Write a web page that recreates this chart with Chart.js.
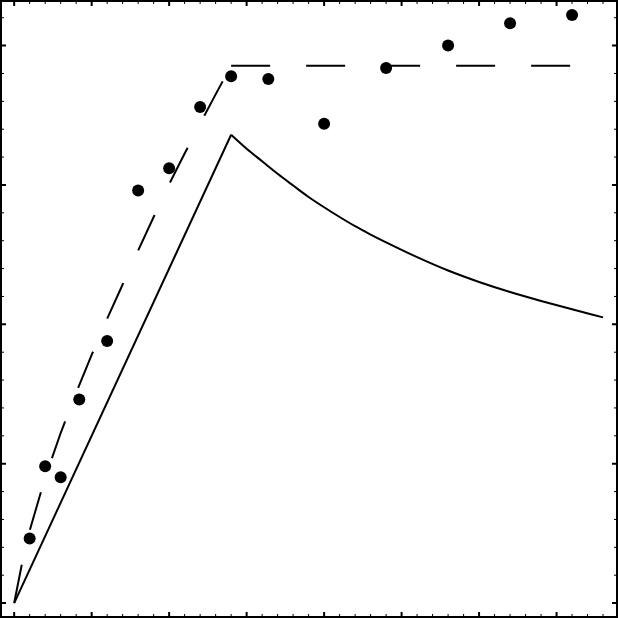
<!DOCTYPE html>
<html>
<head>
<meta charset="utf-8">
<script src="https://cdn.jsdelivr.net/npm/chart.js@4"></script>
<style>
    html, body { margin: 0; padding: 0; background: #ffffff; }
    #wrap { width: 618px; height: 618px; }
</style>
</head>
<body>
<div id="wrap"><canvas id="plot"></canvas></div>
<script>
// Measured points (filled circles)
const pointX = [1, 2, 3, 4.2, 6, 8, 10, 12, 14, 16.4, 20, 24, 28, 32, 36];
const pointY = [23.2, 49.1, 45.1, 73, 94, 148, 156, 178, 189, 188, 172, 192, 200, 208, 211];

// Dashed curve: rising part, then flat part
const dashRiseX = [0, 0.5, 1, 2, 3, 4, 5, 6, 7, 8, 9, 10, 11, 12, 13, 14];
const dashRiseY = [0, 14, 26, 45, 61, 75.5, 89, 102, 114.3, 126.5, 138.5, 150.3, 161.3, 172, 182.5, 192.8];
const dashFlatX = [14, 36];
const dashFlatY = [192.8, 192.8];

// Solid curve: linear rise to the peak, then decay
const solidRiseX = [0, 14];
const solidRiseY = [0, 168];
const solidDecayX = [14, 15, 16, 17, 18, 19, 20, 21, 22, 23, 24, 26, 28, 30, 32, 34, 36, 38];
const solidDecayY = [168, 163, 158.5, 154, 149.8, 145.7, 142, 138.5, 135.2, 132.2, 129.4, 124.1, 119.3, 115.2, 111.6, 108.4, 105.4, 102.5];

// Tick values (no labels are shown)
const xMajorTicks = [0, 5, 10, 15, 20, 25, 30, 35];
const xMinorTicks = [];
for (let v = 0; v <= 38; v += 1) {
    if (v % 5 !== 0) xMinorTicks.push(v);
}
const yMajorTicks = [0, 50, 100, 150, 200];
const yMinorTicks = [];
for (let v = 10; v <= 210; v += 10) {
    if (v % 50 !== 0) yMinorTicks.push(v);
}

function toPoints(xs, ys) {
    return xs.map((x, i) => ({ x: x, y: ys[i] }));
}

// Frame and inward ticks on all four sides
const framePlugin = {
    id: 'frame',
    beforeDraw: function (chart) {
        const ctx = chart.ctx;
        ctx.save();
        ctx.fillStyle = '#ffffff';
        ctx.fillRect(0, 0, chart.width, chart.height);
        ctx.restore();
    },
    afterDraw: function (chart) {
        const ctx = chart.ctx;
        const area = chart.chartArea;
        const xs = chart.scales.x;
        const ys = chart.scales.y;

        ctx.save();
        ctx.strokeStyle = '#000000';
        ctx.lineWidth = 2;
        ctx.strokeRect(area.left, area.top, area.right - area.left, area.bottom - area.top);

        function xTick(v, len, w) {
            const px = xs.getPixelForValue(v);
            ctx.lineWidth = w;
            ctx.beginPath();
            ctx.moveTo(px, area.bottom);
            ctx.lineTo(px, area.bottom - len);
            ctx.moveTo(px, area.top);
            ctx.lineTo(px, area.top + len);
            ctx.stroke();
        }

        function yTick(v, len, w) {
            const py = ys.getPixelForValue(v);
            ctx.lineWidth = w;
            ctx.beginPath();
            ctx.moveTo(area.left, py);
            ctx.lineTo(area.left + len, py);
            ctx.moveTo(area.right, py);
            ctx.lineTo(area.right - len, py);
            ctx.stroke();
        }

        xMinorTicks.forEach(v => xTick(v, 3, 1));
        xMajorTicks.forEach(v => xTick(v, 5, 2));
        yMinorTicks.forEach(v => yTick(v, 3, 1));
        yMajorTicks.forEach(v => yTick(v, 5, 2));
        ctx.restore();
    }
};

const ctx = document.getElementById('plot').getContext('2d');
const plot = new Chart(ctx, {
    type: 'scatter',
    data: {
        datasets: [
            {
                data: toPoints(solidRiseX, solidRiseY),
                showLine: true,
                borderColor: '#000000',
                borderWidth: 2,
                pointRadius: 0
            },
            {
                data: toPoints(solidDecayX, solidDecayY),
                showLine: true,
                borderColor: '#000000',
                borderWidth: 2,
                pointRadius: 0,
                cubicInterpolationMode: 'monotone'
            },
            {
                data: toPoints(dashRiseX, dashRiseY),
                showLine: true,
                borderColor: '#000000',
                borderWidth: 2,
                borderDash: [39, 36],
                pointRadius: 0
            },
            {
                data: toPoints(dashFlatX, dashFlatY),
                showLine: true,
                borderColor: '#000000',
                borderWidth: 2,
                borderDash: [39, 36],
                pointRadius: 0
            },
            {
                data: toPoints(pointX, pointY),
                showLine: false,
                backgroundColor: '#000000',
                borderColor: '#000000',
                borderWidth: 0,
                pointRadius: 6,
                pointHoverRadius: 6
            }
        ]
    },
    options: {
        responsive: true,
        maintainAspectRatio: false,
        animation: false,
        layout: {
            autoPadding: false,
            padding: { left: 1, right: 1, top: 1, bottom: 1 }
        },
        plugins: {
            legend: { display: false },
            tooltip: { enabled: false }
        },
        scales: {
            x: { type: 'linear', display: false, min: -0.85, max: 38.9 },
            y: { type: 'linear', display: false, min: -5, max: 216 }
        }
    },
    plugins: [framePlugin]
});
</script>
</body>
</html>
